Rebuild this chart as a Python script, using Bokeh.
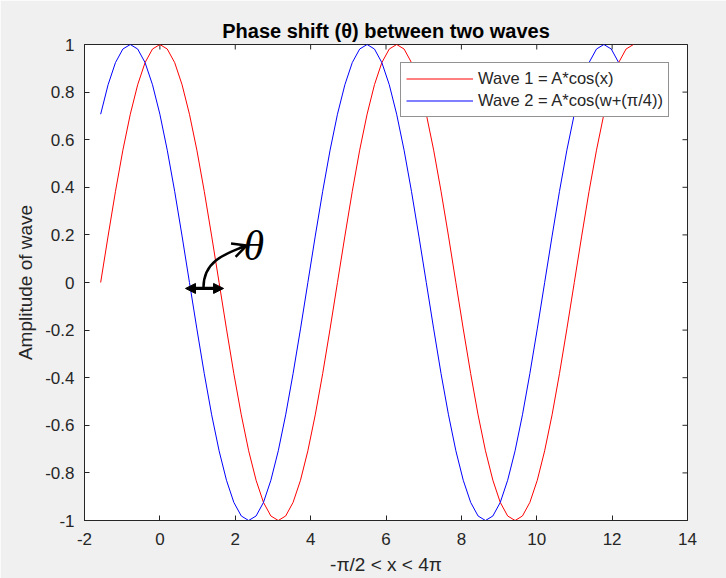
from bokeh.plotting import figure
from bokeh.models import (FixedTicker, Range1d, Arrow, NormalHead,
                          OpenHead, Label, Legend, LegendItem)
from bokeh.embed import file_html
from bokeh.resources import INLINE
import math

# ---------------- data ----------------
x_vals = [-1.571, -1.374, -1.178, -0.982, -0.785, -0.589, -0.393, -0.196,
          0.000, 0.196, 0.393, 0.589, 0.785, 0.982, 1.178, 1.374,
          1.571, 1.767, 1.963, 2.160, 2.356, 2.553, 2.749, 2.945,
          3.142, 3.338, 3.534, 3.731, 3.927, 4.123, 4.320, 4.516,
          4.712, 4.909, 5.105, 5.301, 5.498, 5.694, 5.890, 6.087,
          6.283, 6.480, 6.676, 6.872, 7.069, 7.265, 7.461, 7.658,
          7.854, 8.050, 8.247, 8.443, 8.639, 8.836, 9.032, 9.228,
          9.425, 9.621, 9.817, 10.014, 10.210, 10.407, 10.603, 10.799,
          10.996, 11.192, 11.388, 11.585, 11.781, 11.977, 12.174, 12.370,
          12.566]

wave1 = [0.000, 0.195, 0.383, 0.556, 0.707, 0.831, 0.924, 0.981, 1.000,
         0.981, 0.924, 0.831, 0.707, 0.556, 0.383, 0.195, 0.000,
         -0.195, -0.383, -0.556, -0.707, -0.831, -0.924, -0.981, -1.000,
         -0.981, -0.924, -0.831, -0.707, -0.556, -0.383, -0.195, 0.000,
         0.195, 0.383, 0.556, 0.707, 0.831, 0.924, 0.981, 1.000,
         0.981, 0.924, 0.831, 0.707, 0.556, 0.383, 0.195, 0.000,
         -0.195, -0.383, -0.556, -0.707, -0.831, -0.924, -0.981, -1.000,
         -0.981, -0.924, -0.831, -0.707, -0.556, -0.383, -0.195, 0.000,
         0.195, 0.383, 0.556, 0.707, 0.831, 0.924, 0.981, 1.000]

wave2 = [0.707, 0.831, 0.924, 0.981, 1.000,
         0.981, 0.924, 0.831, 0.707, 0.556, 0.383, 0.195, 0.000,
         -0.195, -0.383, -0.556, -0.707, -0.831, -0.924, -0.981, -1.000,
         -0.981, -0.924, -0.831, -0.707, -0.556, -0.383, -0.195, 0.000,
         0.195, 0.383, 0.556, 0.707, 0.831, 0.924, 0.981, 1.000,
         0.981, 0.924, 0.831, 0.707, 0.556, 0.383, 0.195, 0.000,
         -0.195, -0.383, -0.556, -0.707, -0.831, -0.924, -0.981, -1.000,
         -0.981, -0.924, -0.831, -0.707, -0.556, -0.383, -0.195, 0.000,
         0.195, 0.383, 0.556, 0.707, 0.831, 0.924, 0.981, 1.000,
         0.981, 0.924, 0.831, 0.707]

x_ticks = [-2, 0, 2, 4, 6, 8, 10, 12, 14]
y_ticks = [-1, -0.8, -0.6, -0.4, -0.2, 0, 0.2, 0.4, 0.6, 0.8, 1]
y_tick_labels = ["-1", "-0.8", "-0.6", "-0.4", "-0.2", "0",
                 "0.2", "0.4", "0.6", "0.8", "1"]
x_tick_labels = ["-2", "0", "2", "4", "6", "8", "10", "12", "14"]

series_names = ["Wave 1 = A*cos(x)", "Wave 2 = A*cos(w+(\u03c0/4))"]
title_text = "Phase shift (\u03b8) between two waves"
x_label = "-\u03c0/2 < x < 4\u03c0"
y_label = "Amplitude of wave"

X_MIN, X_MAX, Y_MIN, Y_MAX = -2, 14, -1, 1

# ---------------- styling ----------------
FONT = "Liberation Sans"
INK = "#262626"

p = figure(width=726, height=578, output_backend="svg", toolbar_location=None,
           x_range=Range1d(X_MIN, X_MAX), y_range=Range1d(Y_MIN, Y_MAX),
           min_border_left=84, min_border_right=39,
           min_border_top=44, min_border_bottom=58)
p.background_fill_color = "white"
p.border_fill_color = "#f0f0f0"
p.outline_line_color = INK
p.outline_line_width = 1
p.xgrid.visible = False
p.ygrid.visible = False

p.title.text = title_text
p.title.align = "center"
p.title.text_font = FONT
p.title.text_font_size = "20px"
p.title.text_font_style = "bold"
p.title.text_color = "black"
p.title.standoff = 5

p.xaxis.ticker = FixedTicker(ticks=x_ticks)
p.yaxis.ticker = FixedTicker(ticks=y_ticks)
p.xaxis.major_label_overrides = dict(zip(x_ticks, x_tick_labels))
p.yaxis.major_label_overrides = dict(zip(y_ticks, y_tick_labels))
for ax in (p.xaxis[0], p.yaxis[0]):
    ax.axis_line_color = INK
    ax.major_tick_line_color = INK
    ax.major_tick_in = 5
    ax.major_tick_out = 0
    ax.minor_tick_line_color = None
    ax.major_label_text_font = FONT
    ax.major_label_text_color = INK
    ax.major_label_text_font_size = "17px"
    ax.axis_label_text_font = FONT
    ax.axis_label_text_font_style = "normal"
    ax.axis_label_text_color = INK
    ax.axis_label_text_font_size = "19px"
p.xaxis.axis_label = x_label
p.yaxis.axis_label = y_label
p.xaxis.major_label_standoff = 12
p.xaxis.axis_label_standoff = 6
p.yaxis.major_label_standoff = 10
p.yaxis.axis_label_standoff = 6

# mirrored inward ticks on the top and right edges (clipped to the frame)
p.scatter(x_ticks, [Y_MAX] * len(x_ticks), marker="dash", angle=math.pi / 2,
          size=10, line_color=INK, line_width=1)
p.scatter([X_MAX] * len(y_ticks), y_ticks, marker="dash",
          size=10, line_color=INK, line_width=1)

r1 = p.line(x_vals, wave1, line_color="#ff0000", line_width=1)
r2 = p.line(x_vals, wave2, line_color="#0000ff", line_width=1)

legend = Legend(items=[LegendItem(label=series_names[0], renderers=[r1]),
                       LegendItem(label=series_names[1], renderers=[r2])],
                location="top_right", margin=18)
legend.border_line_color = INK
legend.border_line_width = 1
legend.background_fill_color = "white"
legend.background_fill_alpha = 1
legend.label_text_font = FONT
legend.label_text_font_size = "16.5px"
legend.label_text_color = INK
legend.glyph_width = 67
legend.glyph_height = 21
legend.label_height = 21
legend.label_standoff = 5
legend.padding = 5
legend.spacing = 1
p.add_layout(legend, "center")

# ---------------- phase-shift annotation ----------------
shift_start, shift_end, shift_y = 0.68, 1.69, -0.025
p.add_layout(Arrow(x_start=shift_start, y_start=shift_y, x_end=shift_end, y_end=shift_y,
                   line_color="black", line_width=3.3,
                   start=NormalHead(size=10, fill_color="black", line_color="black"),
                   end=NormalHead(size=10, fill_color="black", line_color="black")))
p.bezier(x0=[1.157], y0=[-0.021], x1=[2.28], y1=[0.154],
         cx0=[1.157], cy0=[0.084], cx1=[1.66], cy1=[0.118],
         line_color="black", line_width=2.5)
p.add_layout(Arrow(x_start=2.10, y_start=0.144, x_end=2.30, y_end=0.155,
                   line_color="black", line_width=2.5,
                   end=OpenHead(size=14, line_color="black", line_width=2.5)))
p.add_layout(Label(x=2.22, y=0.153, text="\u03b8", text_font="Liberation Serif",
                   text_font_style="italic", text_font_size="42px",
                   text_baseline="alphabetic", text_color="black"))

open("out.html", "w").write(file_html(p, INLINE))
